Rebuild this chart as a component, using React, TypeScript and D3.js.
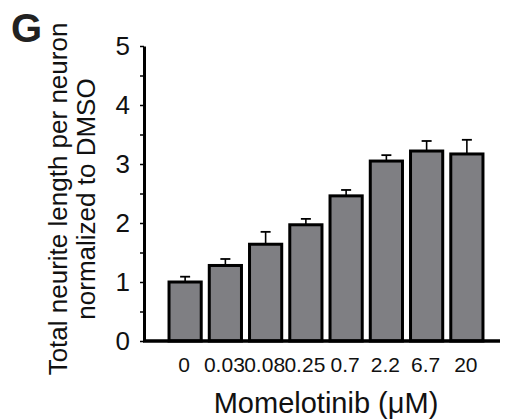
import React, { useEffect, useRef } from "react";
import * as d3 from "d3";

const doses = ["0", "0.03", "0.08", "0.25", "0.7", "2.2", "6.7", "20"];
const means = [1.0, 1.28, 1.64, 1.97, 2.46, 3.05, 3.22, 3.17];
const errors = [0.09, 0.11, 0.21, 0.1, 0.1, 0.1, 0.17, 0.24];
const yTicks = [0, 0.5, 1, 1.5, 2, 2.5, 3, 3.5, 4, 4.5, 5];

const FONT = "'Liberation Sans', Arial, Helvetica, sans-serif";

const App = () => {
  const axisRef = useRef<SVGGElement>(null);
  const width = 508;
  const height = 420;

  const x = d3.scaleBand<string>()
    .domain(doses)
    .range([165, 487])
    .paddingInner(0.2)
    .paddingOuter(0.1);

  const y = d3.scaleLinear().domain([0, 5]).range([341, 46]);

  useEffect(() => {
    if (!axisRef.current) return;
    const g = d3.select(axisRef.current);
    g.selectAll("*").remove();
    g.call(
      d3.axisLeft(y)
        .tickValues(yTicks)
        .tickSize(4)
        .tickSizeOuter(0)
        .tickPadding(10)
        .tickFormat((d) => (Number(d) % 1 === 0 ? String(d) : ""))
    );
    g.select(".domain").attr("stroke", "#000").attr("stroke-width", 3);
    g.selectAll(".tick line").attr("stroke", "#000").attr("stroke-width", 1.5);
    g.selectAll(".tick text")
      .attr("fill", "#111")
      .style("font-family", FONT)
      .style("font-size", "26px");
  }, []);

  return (
    <svg
      width={width}
      height={height}
      style={{ position: "absolute", left: 0, top: 0, background: "#fff" }}
    >
      <text x={11} y={42} fontFamily={FONT} fontWeight="bold" fontSize={40} fill="#222">
        G
      </text>

      {/* y axis title, two lines */}
      <g transform="translate(67,199) rotate(-90)">
        <text textAnchor="middle" fontFamily={FONT} fontSize={26} fill="#111">
          Total neurite length per neuron
        </text>
      </g>
      <g transform="translate(95,199) rotate(-90)">
        <text textAnchor="middle" fontFamily={FONT} fontSize={26} fill="#111">
          normalized to DMSO
        </text>
      </g>

      <g ref={axisRef} transform="translate(144,0)" />

      {/* error bars (upper only) */}
      {means.map((m, i) => {
        const cx = (x(doses[i]) ?? 0) + x.bandwidth() / 2;
        return (
          <g key={`err-${i}`} stroke="#000">
            <line x1={cx} x2={cx} y1={y(m)} y2={y(m + errors[i])} strokeWidth={1.6} />
            <line x1={cx - 5} x2={cx + 5} y1={y(m + errors[i])} y2={y(m + errors[i])} strokeWidth={1.8} />
          </g>
        );
      })}

      {means.map((m, i) => (
        <rect
          key={`bar-${i}`}
          x={x(doses[i])}
          y={y(m)}
          width={x.bandwidth()}
          height={y(0) - y(m)}
          fill="#7f7f83"
          stroke="#000"
          strokeWidth={3}
        />
      ))}

      {/* x axis line */}
      <line x1={143} x2={500} y1={y(0)} y2={y(0)} stroke="#000" strokeWidth={3.5} />

      {doses.map((d) => (
        <text
          key={`xl-${d}`}
          x={(x(d) ?? 0) + x.bandwidth() / 2 - 1}
          y={372}
          textAnchor="middle"
          fontFamily={FONT}
          fontSize={21}
          fill="#111"
        >
          {d}
        </text>
      ))}

      <text x={326} y={413} textAnchor="middle" fontFamily={FONT} fontSize={29} fill="#111">
        Momelotinib (μM)
      </text>
    </svg>
  );
};

export default App;
